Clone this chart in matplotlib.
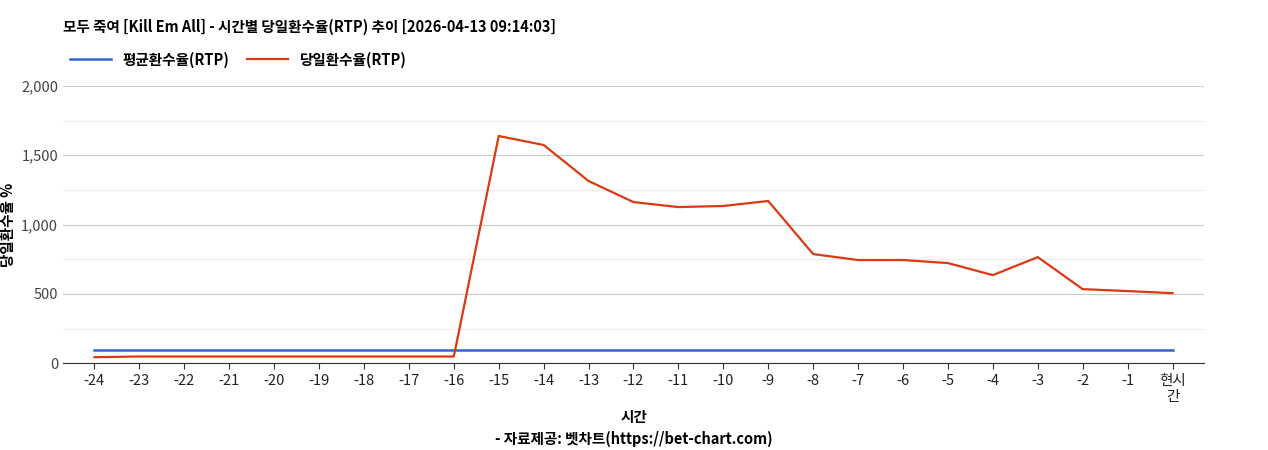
import matplotlib.pyplot as plt
from matplotlib.ticker import FuncFormatter, MultipleLocator

plt.rcParams['font.family'] = ['Noto Sans CJK KR', 'DejaVu Sans']

hours = ['-24', '-23', '-22', '-21', '-20', '-19', '-18', '-17', '-16', '-15', '-14', '-13',
         '-12', '-11', '-10', '-9', '-8', '-7', '-6', '-5', '-4', '-3', '-2', '-1', '현시\n간']
avg_rtp = [94] * 25
day_rtp = [43, 48, 48, 48, 48, 48, 48, 48, 48, 1639, 1574, 1314, 1162, 1126, 1134, 1170,
           787, 744, 744, 722, 635, 765, 534, 520, 505]

fig = plt.figure(figsize=(12.68, 4.5), dpi=100)
ax = fig.add_axes([0.0497, 0.193, 0.8998, 0.616])
x = range(len(hours))
ax.plot(x, avg_rtp, color='#3366cc', lw=1.8, label='평균환수율(RTP)')
ax.plot(x, day_rtp, color='#dc3912', lw=1.6, label='당일환수율(RTP)')

ax.set_xlim(-0.7, len(hours) - 0.3)
ax.set_ylim(0, 2000)
ax.yaxis.set_major_locator(MultipleLocator(500))
ax.yaxis.set_minor_locator(MultipleLocator(250))
ax.yaxis.set_major_formatter(FuncFormatter(lambda v, p: f'{int(v):,}'))
ax.grid(axis='y', which='major', color='#cccccc', lw=0.8)
ax.grid(axis='y', which='minor', color='#ebebeb', lw=0.8)
ax.set_axisbelow(True)
ax.set_xticks(list(x))
ax.set_xticklabels(hours, fontsize=10.5, color='#222222')
ax.tick_params(axis='y', labelsize=10.5, colors='#444444', length=0)
ax.tick_params(axis='y', which='minor', length=0)
ax.tick_params(axis='x', length=4, color='#333333')
for s in ['top', 'right', 'left']:
    ax.spines[s].set_visible(False)
ax.spines['bottom'].set_color('#333333')

ax.set_ylabel('당일환수율 %', fontsize=10.5, fontweight='bold')
ax.set_xlabel('시간\n- 자료제공: 벳차트(https://bet-chart.com)', fontsize=10.5,
              fontweight='bold', linespacing=1.4)
fig.text(0.05, 0.93, '모두 죽여 [Kill Em All] - 시간별 당일환수율(RTP) 추이 [2026-04-13 09:14:03]',
         fontsize=10.5, fontweight='bold')
fig.legend(loc='upper left', bbox_to_anchor=(0.045, 0.915), ncol=2, frameon=False,
           prop={'size': 10.5, 'weight': 'bold'}, handlelength=2.8, columnspacing=1.2)

fig.savefig('out.png', dpi=100)
plt.close('all')
